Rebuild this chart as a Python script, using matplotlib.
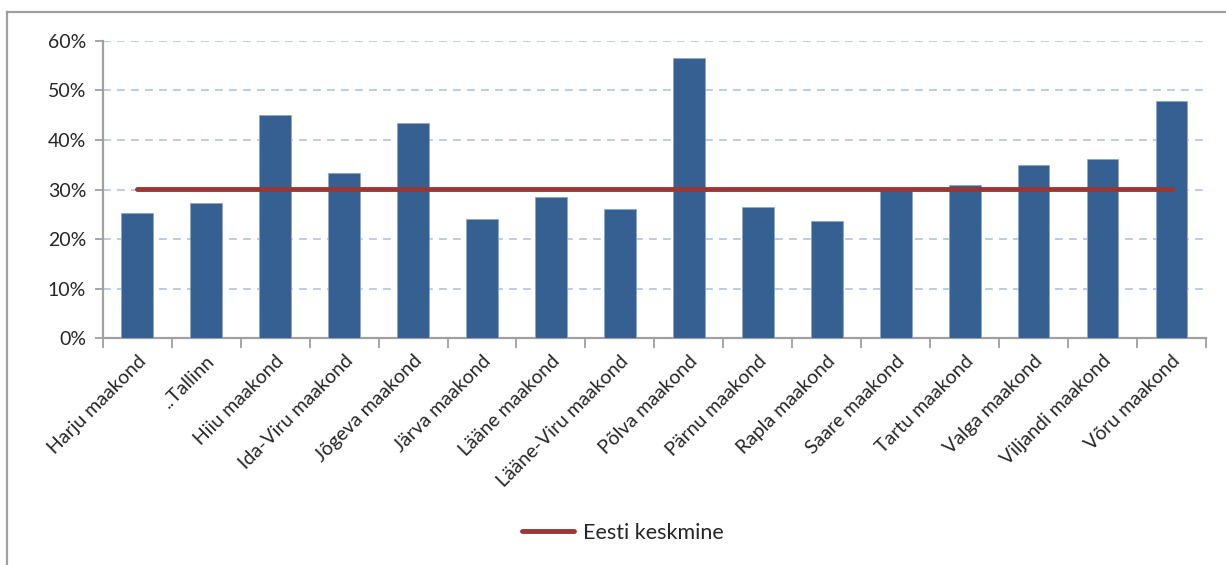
import matplotlib
matplotlib.use("Agg")
import matplotlib.pyplot as plt
import matplotlib.ticker as ticker
from matplotlib.lines import Line2D
import numpy as np

# ── data ──────────────────────────────────────────────────────────────────────
counties = [
    "Harju maakond", "..Tallinn", "Hiiu maakond", "Ida-Viru maakond",
    "Jõgeva maakond", "Järva maakond", "Lääne maakond", "Lääne-Viru maakond",
    "Põlva maakond", "Pärnu maakond", "Rapla maakond", "Saare maakond",
    "Tartu maakond", "Valga maakond", "Viljandi maakond", "Võru maakond",
]
shares = [0.253, 0.273, 0.450, 0.334, 0.434, 0.241, 0.285, 0.261,
          0.566, 0.265, 0.237, 0.298, 0.310, 0.350, 0.362, 0.478]
estonia_avg = [0.302] * len(counties)
y_ticks = [0.0, 0.1, 0.2, 0.3, 0.4, 0.5, 0.6]

BAR = "#366092"
LINE = "#993735"
GRID = "#B9CDE5"
AXIS = "#A0A0A0"
TEXT = "#262626"

plt.rcParams["font.family"] = ["Lato", "DejaVu Sans"]

fig = plt.figure(figsize=(12.26, 5.65), dpi=100, facecolor="white")
ax = fig.add_axes([0.0838, 0.4012, 0.8999, 0.5268])

x = np.arange(len(counties))
ax.bar(x, shares, width=0.46, color=BAR, edgecolor="#8EA6C8",
       linewidth=0.6, zorder=3)
ax.plot(x, estonia_avg, color=LINE, linewidth=3.5, solid_capstyle="round",
        label="Eesti keskmine", zorder=4)

ax.set_xlim(-0.5, len(counties) - 0.5)
ax.set_ylim(0, 0.6)
ax.set_yticks(y_ticks)
ax.yaxis.set_major_formatter(ticker.PercentFormatter(1.0, decimals=0))
ax.grid(axis="y", color=GRID, linestyle=(0, (4, 3.2)), linewidth=1.4, zorder=0)
ax.set_axisbelow(True)

ax.set_xticks(x)
ax.set_xticklabels(counties, rotation=45, ha="right", rotation_mode="anchor",
                   fontsize=14, color=TEXT)
ax.set_xticks(np.arange(-0.5, len(counties)), minor=True)
ax.tick_params(axis="x", which="major", length=0, pad=10)
ax.tick_params(axis="x", which="minor", length=7, width=1.3, color=AXIS)
ax.tick_params(axis="y", length=6, width=1.3, color=AXIS, labelsize=14,
               labelcolor=TEXT, pad=6)

for side in ("top", "right"):
    ax.spines[side].set_visible(False)
for side in ("left", "bottom"):
    ax.spines[side].set_color(AXIS)
    ax.spines[side].set_linewidth(1.6)

fig.legend(loc="center", bbox_to_anchor=(0.508, 0.057), frameon=False,
           fontsize=15.5, handlelength=2.4, handletextpad=0.4,
           labelcolor=TEXT)

# chart frame (only top and left edges are visible in the crop)
fig.add_artist(Line2D([7 / 1226, 7 / 1226], [0, 1 - 12 / 565],
                      transform=fig.transFigure, color=AXIS, linewidth=1.6))
fig.add_artist(Line2D([7 / 1226, 1], [1 - 12 / 565, 1 - 12 / 565],
                      transform=fig.transFigure, color=AXIS, linewidth=1.6))

fig.savefig("out.png", dpi=100, facecolor="white")
